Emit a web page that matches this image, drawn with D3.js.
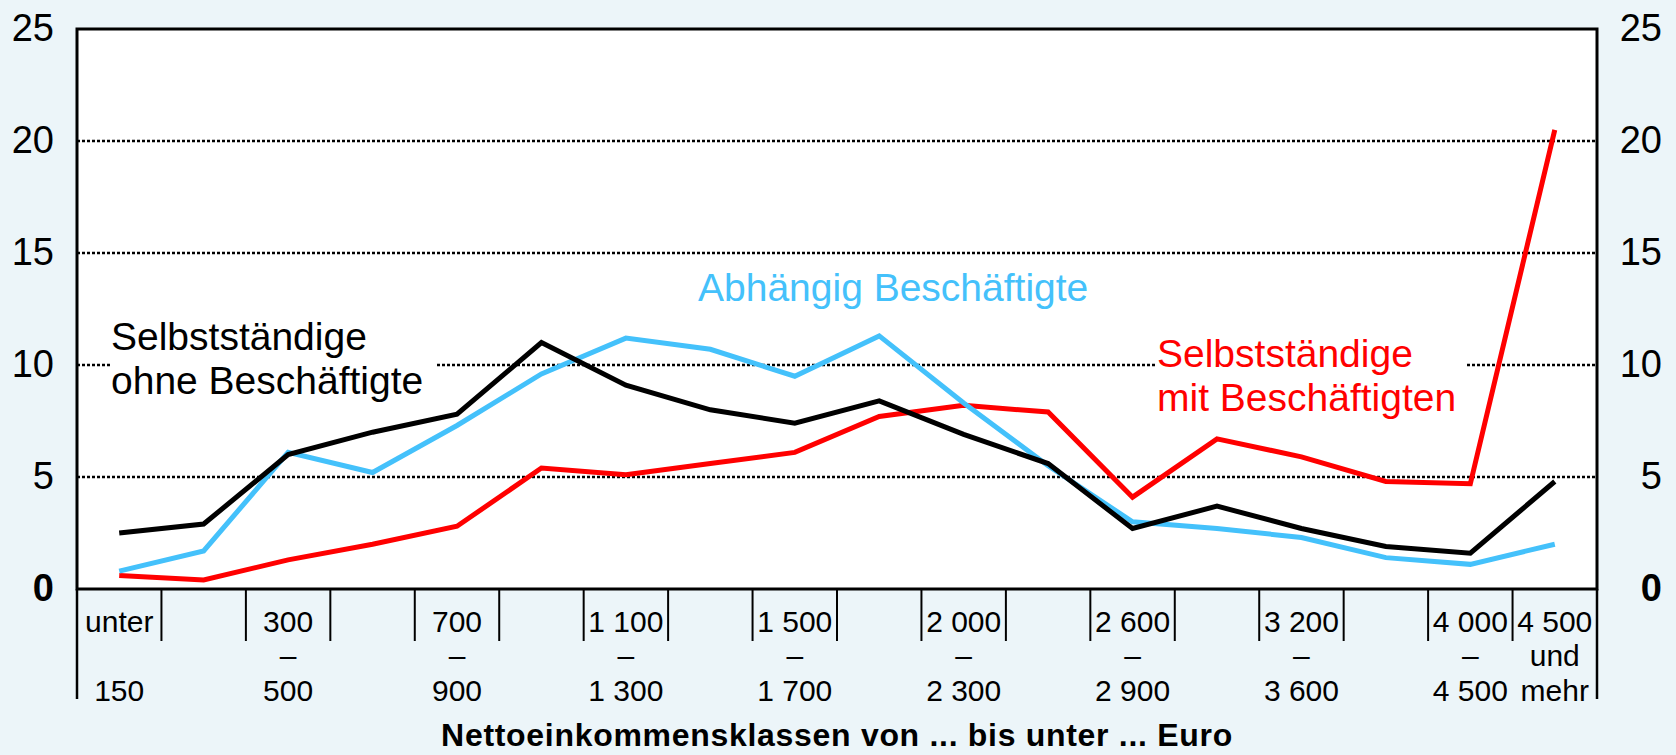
<!DOCTYPE html>
<html>
<head>
<meta charset="utf-8">
<script src="https://cdn.jsdelivr.net/npm/d3@7"></script>
<style>
    body { margin: 0; background: #ecf5f9; }
    svg { display: block; font-family: "Liberation Sans", Arial, sans-serif; }
</style>
</head>
<body>
<div id="chart"></div>
<script>

// Income classes (euro, from ... to under ...)
const categories = ["unter 150", "150–300", "300–500", "500–700", "700–900", "900–1 100",
    "1 100–1 300", "1 300–1 500", "1 500–1 700", "1 700–2 000", "2 000–2 300", "2 300–2 600",
    "2 600–2 900", "2 900–3 200", "3 200–3 600", "3 600–4 000", "4 000–4 500", "4 500 und mehr"];

// three-line tick labels, only every other class is labelled
const tickLabels = [
    ["unter", "", "150"], null, ["300", "–", "500"], null, ["700", "–", "900"], null,
    ["1 100", "–", "1 300"], null, ["1 500", "–", "1 700"], null, ["2 000", "–", "2 300"], null,
    ["2 600", "–", "2 900"], null, ["3 200", "–", "3 600"], null, ["4 000", "–", "4 500"],
    ["4 500", "und", "mehr"]
];

// share in percent
const ohneBeschaeftigte = [2.5, 2.9, 6.0, 7.0, 7.8, 11.0, 9.1, 8.0, 7.4, 8.4, 6.9, 5.6, 2.7, 3.7, 2.7, 1.9, 1.6, 4.8];
const abhaengigBeschaeftigte = [0.8, 1.7, 6.1, 5.2, 7.3, 9.6, 11.2, 10.7, 9.5, 11.3, 8.3, 5.5, 3.0, 2.7, 2.3, 1.4, 1.1, 2.0];
const mitBeschaeftigten = [0.6, 0.4, 1.3, 2.0, 2.8, 5.4, 5.1, 5.6, 6.1, 7.7, 8.2, 7.9, 4.1, 6.7, 5.9, 4.8, 4.7, 20.5];

const yTicks = [0, 5, 10, 15, 20, 25];
const gridValues = [5, 10, 15, 20];

const width = 1676, height = 755;
const margin = { top: 29, right: 79, bottom: 166, left: 77 };

let svg = d3.select("#chart").append("svg")
    .attr("width", width)
    .attr("height", height);

let x = d3.scaleBand()
    .domain(categories)
    .range([margin.left, width - margin.right])
    .padding(0);

let y = d3.scaleLinear()
    .domain([0, 25])
    .range([height - margin.bottom, margin.top]);

let xMid = d => x(d) + x.bandwidth() / 2;

// plot background
svg.append("rect")
    .attr("x", margin.left)
    .attr("y", margin.top)
    .attr("width", x.range()[1] - margin.left)
    .attr("height", y(0) - margin.top)
    .attr("fill", "#fff");

// dotted gridlines
svg.selectAll(".grid")
    .data(gridValues)
    .enter()
    .append("line")
    .attr("class", "grid")
    .attr("x1", margin.left)
    .attr("x2", x.range()[1])
    .attr("y1", d => y(d))
    .attr("y2", d => y(d))
    .attr("stroke", "#000")
    .attr("stroke-width", 2.5)
    .attr("stroke-dasharray", "3,2");

// series labels (white boxes hide the gridline behind them)
const seriesLabels = [
    { lines: ["Selbstständige", "ohne Beschäftigte"], color: "#000", x: 111, y: 350, box: [110, 312, 327, 94] },
    { lines: ["Abhängig Beschäftigte"], color: "#44c1fb", x: 698, y: 301, box: null },
    { lines: ["Selbstständige", "mit Beschäftigten"], color: "#ff0000", x: 1157, y: 367, box: [1155, 328, 312, 97] }
];

seriesLabels.filter(d => d.box).forEach(d => {
    svg.append("rect")
        .attr("x", d.box[0]).attr("y", d.box[1])
        .attr("width", d.box[2]).attr("height", d.box[3])
        .attr("fill", "#fff");
});

// lines
const series = [
    { values: mitBeschaeftigten, color: "#ff0000" },
    { values: abhaengigBeschaeftigte, color: "#44c1fb" },
    { values: ohneBeschaeftigte, color: "#000" }
];

let line = d3.line()
    .x((d, i) => xMid(categories[i]))
    .y(d => y(d));

svg.selectAll(".series")
    .data(series)
    .enter()
    .append("path")
    .attr("class", "series")
    .attr("d", d => line(d.values))
    .attr("fill", "none")
    .attr("stroke", d => d.color)
    .attr("stroke-width", 5)
    .attr("stroke-linejoin", "miter");

seriesLabels.forEach(d => {
    let t = svg.append("text")
        .attr("x", d.x)
        .attr("y", d.y)
        .attr("fill", d.color)
        .style("font-size", "39px");
    d.lines.forEach((s, i) => {
        t.append("tspan")
            .attr("x", d.x)
            .attr("dy", i === 0 ? 0 : 44)
            .text(s);
    });
});

// frame
svg.append("rect")
    .attr("x", margin.left)
    .attr("y", margin.top)
    .attr("width", x.range()[1] - margin.left)
    .attr("height", y(0) - margin.top)
    .attr("fill", "none")
    .attr("stroke", "#000")
    .attr("stroke-width", 3);

// class boundaries below the axis
svg.selectAll(".cat-tick")
    .data(categories.slice(1))
    .enter()
    .append("line")
    .attr("class", "cat-tick")
    .attr("x1", d => x(d))
    .attr("x2", d => x(d))
    .attr("y1", y(0))
    .attr("y2", y(0) + 52)
    .attr("stroke", "#000")
    .attr("stroke-width", 2);

[margin.left, x.range()[1]].forEach(px => {
    svg.append("line")
        .attr("x1", px).attr("x2", px)
        .attr("y1", y(0)).attr("y2", y(0) + 110)
        .attr("stroke", "#000")
        .attr("stroke-width", 2.5);
});

// tick labels, three rows
const rowY = [632, 666, 701];
categories.forEach((c, i) => {
    if (!tickLabels[i]) return;
    tickLabels[i].forEach((s, r) => {
        if (!s) return;
        svg.append("text")
            .attr("x", xMid(c))
            .attr("y", rowY[r])
            .attr("text-anchor", "middle")
            .style("font-size", "30px")
            .text(s);
    });
});

// y axes
let yLeft = svg.append("g")
    .attr("transform", "translate(" + margin.left + ",0)")
    .call(d3.axisLeft(y).tickValues(yTicks).tickSize(0).tickPadding(23));

let yRight = svg.append("g")
    .attr("transform", "translate(" + x.range()[1] + ",0)")
    .call(d3.axisRight(y).tickValues(yTicks).tickSize(0));

[yLeft, yRight].forEach(g => {
    g.select(".domain").remove();
    g.selectAll("text")
        .attr("dy", null)
        .attr("y", 11)
        .attr("fill", "#000")
        .style("font-family", "'Liberation Sans', Arial, sans-serif")
        .style("font-size", "38px")
        .style("font-weight", d => d === 0 ? "bold" : "normal");
});

yRight.selectAll("text")
    .attr("x", 65)
    .attr("text-anchor", "end");

// axis title
svg.append("text")
    .attr("x", (margin.left + x.range()[1]) / 2)
    .attr("y", 746)
    .attr("text-anchor", "middle")
    .style("font-size", "32px")
    .style("letter-spacing", "0.7px")
    .style("font-weight", "bold")
    .text("Nettoeinkommensklassen von ... bis unter ... Euro");

</script>
</body>
</html>
